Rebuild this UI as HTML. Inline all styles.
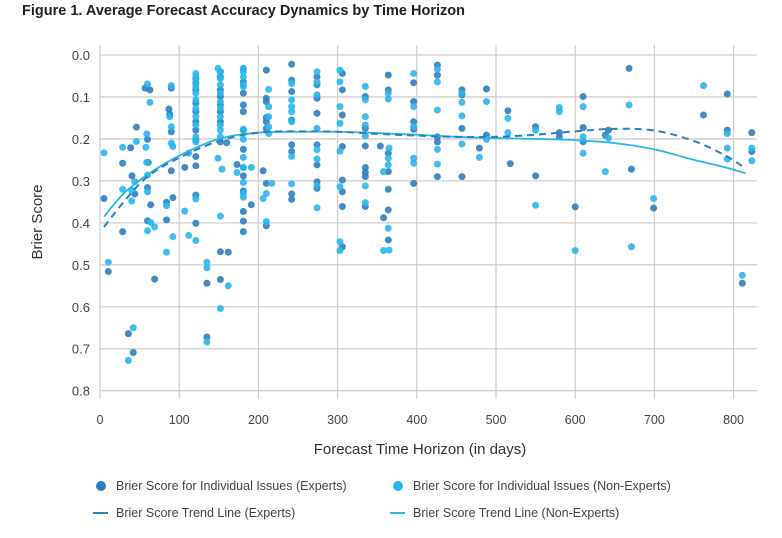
<!DOCTYPE html>
<html><head><meta charset="utf-8">
<style>
body{margin:0;background:#fff;width:782px;height:538px;overflow:hidden;font-family:"Liberation Sans",sans-serif;}
svg{display:block}
</style></head>
<body>
<svg id="chart" width="782" height="538" xmlns="http://www.w3.org/2000/svg">
<text x="22" y="15" font-size="14.5" font-weight="bold" fill="#222">Figure 1. Average Forecast Accuracy Dynamics by Time Horizon</text>
<text transform="translate(42,222) rotate(-90)" text-anchor="middle" font-size="15" fill="#333">Brier Score</text>
<text x="420" y="454" text-anchor="middle" font-size="15" fill="#333">Forecast Time Horizon (in days)</text>
<g font-size="12.5" fill="#444">
<circle cx="101" cy="486" r="5" fill="#2e7fc0"/>
<text x="116" y="490">Brier Score for Individual Issues (Experts)</text>
<circle cx="398" cy="486" r="5" fill="#29b6ec"/>
<text x="413" y="490">Brier Score for Individual Issues (Non-Experts)</text>
<line x1="93" y1="513" x2="108" y2="513" stroke="#2e7fc0" stroke-width="2"/>
<text x="116" y="517">Brier Score Trend Line (Experts)</text>
<line x1="390" y1="513" x2="405" y2="513" stroke="#29b6ec" stroke-width="2"/>
<text x="413" y="517">Brier Score Trend Line (Non-Experts)</text>
</g>
</svg>
<script>
const xTicks=[0,100,200,300,400,500,600,700,800];
const yTicks=[0,0.1,0.2,0.3,0.4,0.5,0.6,0.7,0.8];
const yTickLabels=["0.0","0.1","0.2","0.3","0.4","0.5","0.6","0.7","0.8"];
const expertPoints=[[5,.342],[10.5,.516],[28.6,.258],[28.6,.421],[35.8,.664],[38.7,.221],[40.4,.288],[42,.709],[44,.331],[46,.172],
[57,.079],[63,.083],[60,.201],[61,.256],[60,.316],[64,.357],[60,.395],[69,.534],
[87,.129],[90,.079],[88,.141],[90,.183],[90,.276],[92,.34],[84,.351],[84,.393],[107,.268],
[121,.056],[121,.068],[121,.083],[121,.115],[121,.135],[121,.159],[121,.179],[121,.203],[121,.242],[121,.264],[121,.334],[121,.401],[135,.544],[135,.672],
[152,.040],[152,.052],[152,.083],[152,.099],[152,.119],[152,.135],[152,.159],[152,.207],[160,.209],[152,.469],[162,.47],[152,.535],
[181,.032],[181,.064],[181,.091],[181,.119],[181,.135],[181,.179],[181,.225],[173,.261],[181,.268],[181,.288],[181,.324],[191,.357],[181,.373],[181,.396],[181,.421],
[210,.036],[210,.103],[210,.111],[210,.149],[210,.159],[210,.175],[206,.276],[210,.306],[210,.407],
[242,.022],[242,.06],[242,.087],[242,.155],[242,.214],[242,.23],[242,.331],[242,.344],
[274,.052],[274,.071],[274,.103],[274,.139],[274,.214],[274,.262],[274,.302],[274,.318],
[306,.044],[306,.083],[306,.143],[306,.218],[306,.298],[306,.326],[306,.361],[306,.457],
[335,.099],[335,.175],[335,.217],[335,.268],[335,.28],[335,.29],[335,.361],
[364,.048],[364,.083],[354,.217],[364,.234],[364,.278],[364,.32],[364,.369],[358,.388],[364,.441],
[396,.066],[396,.111],[396,.159],[396,.177],[396,.306],
[426,.024],[426,.048],[426,.195],[426,.207],[426,.29],
[457,.083],[457,.095],[457,.175],[457,.29],
[488,.081],[488,.191],[479,.222],[515,.133],[518,.259],[550,.171],[550,.288],[580,.185],[580,.195],[600,.362],
[610,.099],[610,.173],[610,.207],[642,.179],[638,.191],[668,.032],[671,.272],[699,.365],[762,.143],
[792,.093],[792,.179],[811,.544],[823,.185],[823,.23]];
const nonExpertPoints=[[5,.233],[10.5,.494],[28.6,.22],[28.6,.32],[35.8,.728],[40,.322],[40,.348],[42,.65],[46,.206],[44,.302],
[60,.069],[63,.113],[59,.188],[58,.22],[59,.256],[60,.286],[60,.326],[64,.399],[60,.419],[69,.41],
[90,.073],[88,.147],[90,.171],[90,.21],[92,.218],[84,.359],[92,.433],[84,.47],
[112,.234],[107,.372],[112,.43],
[121,.044],[121,.052],[121,.064],[121,.075],[121,.091],[121,.107],[121,.127],[121,.147],[121,.167],[121,.195],[121,.207],[121,.343],[121,.442],[135,.494],[135,.507],[135,.684],
[149,.032],[152,.04],[152,.056],[152,.071],[152,.091],[152,.111],[152,.127],[152,.147],[152,.167],[152,.179],[152,.195],[149,.246],[154,.272],[152,.384],[162,.55],[152,.604],
[181,.032],[181,.04],[181,.075],[181,.052],[181,.071],[181,.177],[181,.201],[181,.244],[181,.268],[191,.268],[173,.28],[181,.304],[181,.33],[181,.339],
[213,.082],[213,.123],[213,.147],[213,.171],[213,.187],[217,.306],[210,.33],[206,.342],[210,.397],
[242,.068],[242,.107],[242,.123],[242,.135],[242,.159],[242,.242],[242,.307],
[274,.04],[274,.064],[274,.095],[274,.175],[274,.226],[274,.248],[274,.311],[274,.364],
[303,.036],[303,.064],[303,.123],[303,.163],[303,.229],[303,.314],[303,.445],[303,.466],
[335,.075],[335,.107],[335,.147],[335,.167],[335,.193],[335,.312],[335,.352],
[364,.091],[364,.105],[365,.222],[364,.246],[364,.262],[358,.278],[364,.413],[365,.465],[358,.466],
[396,.044],[396,.123],[396,.171],[396,.246],[396,.258],
[426,.034],[426,.064],[426,.131],[426,.225],[426,.26],
[457,.091],[457,.113],[457,.145],[457,.212],
[488,.111],[488,.201],[479,.244],[515,.151],[515,.185],[550,.179],[550,.358],[580,.125],[580,.135],[600,.466],
[610,.123],[610,.195],[610,.234],[642,.198],[638,.278],[668,.119],[671,.457],[699,.342],[762,.073],
[792,.187],[792,.222],[792,.248],[811,.525],[823,.222],[823,.252]];
const trendDays=[5,30,60,100,150,200,250,300,350,400,450,500,550,600,650,700,750,790,815];
const expertTrend=[.41,.35,.29,.245,.205,.185,.182,.183,.188,.192,.195,.195,.19,.182,.176,.18,.205,.24,.27];
const nonExpertTrend=[.385,.33,.285,.24,.2,.185,.183,.183,.186,.19,.195,.198,.2,.203,.21,.225,.25,.268,.282];

const NS="http://www.w3.org/2000/svg";
const svg=document.getElementById('chart');
const X=d=>100+d*0.792;
const Y=s=>55+s*419.6;
function mk(tag,attrs,parent){const e=document.createElementNS(NS,tag);for(const k in attrs)e.setAttribute(k,attrs[k]);(parent||svg).appendChild(e);return e;}
const grid=mk('g',{});


yTicks.forEach((t,i)=>{
  const l=mk('line',{x1:100,x2:757,y1:Y(t),y2:Y(t),stroke:'#cfcfcf','stroke-width':1.3},grid);
  
  
  const tx=mk('text',{x:90,y:Y(t)+5,'text-anchor':'end','font-size':13,fill:'#444'});
  tx.textContent=yTickLabels[i];
  
  
});
xTicks.forEach(t=>{
  const l=mk('line',{x1:X(t),x2:X(t),y1:Y(0)-10,y2:Y(0.8)+8,stroke:'#cfcfcf','stroke-width':1.3},grid);
  
  
  const tx=mk('text',{x:X(t),y:424,'text-anchor':'middle','font-size':12.5,fill:'#444'});
  tx.textContent=String(t);
  
  
});
function pts(arr,color,name){
  const g=mk('g',{fill:color,'fill-opacity':0.9});
  
  
  arr.forEach(p=>{
    const c=mk('circle',{cx:X(p[0]),cy:Y(p[1]),r:3.5},g);
    
    
  });
}
pts(expertPoints,'#2e7fc0','expert-points');
pts(nonExpertPoints,'#29b6ec','non-expert-points');
function path(days,vals){
  let d='M'+X(days[0])+','+Y(vals[0]);
  for(let i=1;i<days.length;i++){
    const x0=X(days[i-1]),y0=Y(vals[i-1]),x1=X(days[i]),y1=Y(vals[i]);
    const xp=i>1?X(days[i-2]):x0,yp=i>1?Y(vals[i-2]):y0;
    const xn=i<days.length-1?X(days[i+1]):x1,yn=i<days.length-1?Y(vals[i+1]):y1;
    d+=' C'+(x0+(x1-xp)/6)+','+(y0+(y1-yp)/6)+' '+(x1-(xn-x0)/6)+','+(y1-(yn-y0)/6)+' '+x1+','+y1;
  }
  return d;
}
const t1=mk('path',{d:path(trendDays,nonExpertTrend),fill:'none',stroke:'#29b6ec','stroke-width':1.8});


const t2=mk('path',{d:path(trendDays,expertTrend),fill:'none',stroke:'#2e7fc0','stroke-width':2,'stroke-dasharray':'7,5'});


</script>
</body></html>
